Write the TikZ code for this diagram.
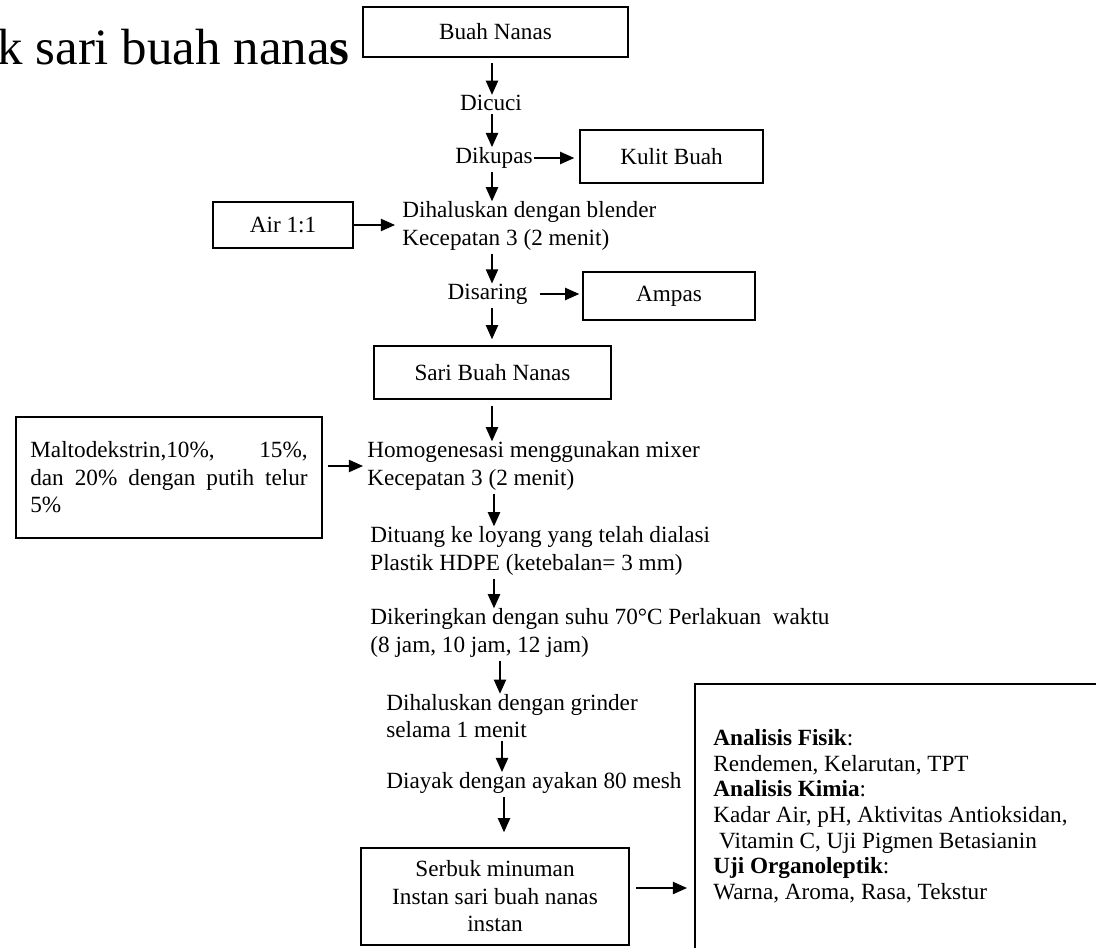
\documentclass[tikz,border=0pt]{standalone}
\usepackage{fontspec}
\setmainfont{Liberation Serif}
\usetikzlibrary{arrows.meta}
\newcommand{\pxu}{0.53pt}
\tikzset{
every node/.style={font=\fontsize{12.3}{14.6}\selectfont},
box/.style={ % framed steps and outputs
draw, line width=0.8pt, inner sep=0pt, align=center},
stage/.style={inner sep=0pt, align=left}, % plain process text
arr/.style={-{Triangle[length=7.5pt,width=6.5pt]}, line width=0.8pt}}

\begin{document}
\begin{tikzpicture}[x=\pxu, y=-\pxu]
	\useasboundingbox (0,0) rectangle (1096,948);
	\clip (0,0) rectangle (1096,948);
	\node[anchor=base east, inner sep=0pt, font=\fontsize{27}{30}\selectfont] (title) at (350,65) {k sari buah nana\textbf{s}};
	% main column
	\node[box, minimum width=265*\pxu, minimum height=50*\pxu] (buah) at (495.5,32) {Buah Nanas};
	\node[stage] (cuci) at (491,103) {Dicuci};
	\node[stage] (kupas) at (494,158) {Dikupas};
	\node[box, minimum width=183*\pxu, minimum height=53*\pxu] (kulit) at (671.5,156.5) {Kulit Buah};
	\node[stage, anchor=west] (blender) at (402,226) {Dihaluskan dengan blender\\Kecepatan 3 (2 menit)};
	\node[box, minimum width=140*\pxu, minimum height=46*\pxu] (air) at (283,225) {Air 1:1};
	\node[stage] (saring) at (487.5,294) {Disaring};
	\node[box, minimum width=172*\pxu, minimum height=48*\pxu] (ampas) at (669,296) {Ampas};
	\node[box, minimum width=237*\pxu, minimum height=53*\pxu] (sari) at (492.5,372.5) {Sari Buah Nanas};
	\node[box, align=left, minimum width=306*\pxu, minimum height=121*\pxu] (malto) at (169,477.5) {\makebox[147pt][s]{Maltodekstrin,10\%, 15\%,}\\\makebox[147pt][s]{dan 20\% dengan putih telur}\\5\%};
	\node[stage, anchor=west] (homogen) at (367,466) {Homogenesasi menggunakan mixer\\Kecepatan 3 (2 menit)};
	\node[stage, anchor=west] (tuang) at (370,551) {Dituang ke loyang yang telah dialasi\\Plastik HDPE (ketebalan= 3 mm)};
	\node[stage, anchor=west] (kering) at (370,633) {Dikeringkan dengan suhu 70°C Perlakuan~ waktu\\(8 jam, 10 jam, 12 jam)};
	\node[stage, anchor=west] (grinder) at (386,716) {Dihaluskan dengan grinder\\selama 1 menit};
	\node[stage, anchor=west] (ayak) at (386,783) {Diayak dengan ayakan 80 mesh};
	\node[box, minimum width=268*\pxu, minimum height=97*\pxu] (serbuk) at (495,896.5) {Serbuk minuman\\Instan sari buah nanas\\instan};
	% analysis
	\node[box, anchor=north west, minimum width=450*\pxu, minimum height=330*\pxu] (uji) at (694,683) {};
	\node[stage, anchor=north west, font=\fontsize{12.3}{13.6}\selectfont] (ujitext) at (713,729) {\textbf{Analisis Fisik}:\\Rendemen, Kelarutan, TPT\\\textbf{Analisis Kimia}:\\Kadar Air, pH, Aktivitas Antioksidan,\\\hspace*{0.25em}Vitamin C, Uji Pigmen Betasianin\\\textbf{Uji Organoleptik}:\\Warna, Aroma, Rasa, Tekstur};
	% arrow columns
	\coordinate (c1) at (492,0);
	\coordinate (c2) at (494,0);
	\coordinate (c3) at (500,0);
	\coordinate (c4) at (502,0);
	\coordinate (c5) at (504,0);
	\draw[arr, shorten <=5*\pxu] (buah.south -| c1) -- (cuci.north -| c1);
	\draw[arr, shorten <=3*\pxu] (cuci.south -| c1) -- (kupas.north -| c1);
	\draw[arr, shorten <=1*\pxu, shorten >=5*\pxu] (kupas.east) -- (kupas.east -| kulit.west);
	\draw[arr, shorten <=3*\pxu] (kupas.south -| c1) -- (blender.north -| c1);
	\draw[arr, shorten >=7*\pxu] (air.east) -- (air.east -| blender.west);
	\draw[arr, shorten <=3*\pxu] (blender.south -| c1) -- (saring.north -| c1);
	\draw[arr, shorten <=12*\pxu, shorten >=3*\pxu] (saring.east) -- (saring.east -| ampas.west);
	\draw[arr, shorten <=3*\pxu, shorten >=6*\pxu] (saring.south -| c1) -- (sari.north -| c1);
	\draw[arr, shorten <=6*\pxu] (sari.south -| c1) -- (homogen.north -| c1);
	\draw[arr, shorten <=5*\pxu, shorten >=4*\pxu] (malto.east |- homogen.west) -- (homogen.west);
	\draw[arr, shorten <=3*\pxu] (homogen.south -| c2) -- (tuang.north -| c2);
	\draw[arr, shorten <=3*\pxu] (tuang.south -| c2) -- (kering.north -| c2);
	\draw[arr, shorten <=3*\pxu] (kering.south -| c3) -- (grinder.north -| c3);
	\draw[arr, shorten <=3*\pxu] (grinder.south -| c4) -- (ayak.north -| c4);
	\draw[arr, shorten <=3*\pxu, shorten >=15*\pxu] (ayak.south -| c5) -- (serbuk.north -| c5);
	\draw[arr, shorten <=6*\pxu, shorten >=7*\pxu] ([yshift=4.5pt]serbuk.east) -- ([yshift=4.5pt]serbuk.east -| uji.west);
\end{tikzpicture}
\end{document}
